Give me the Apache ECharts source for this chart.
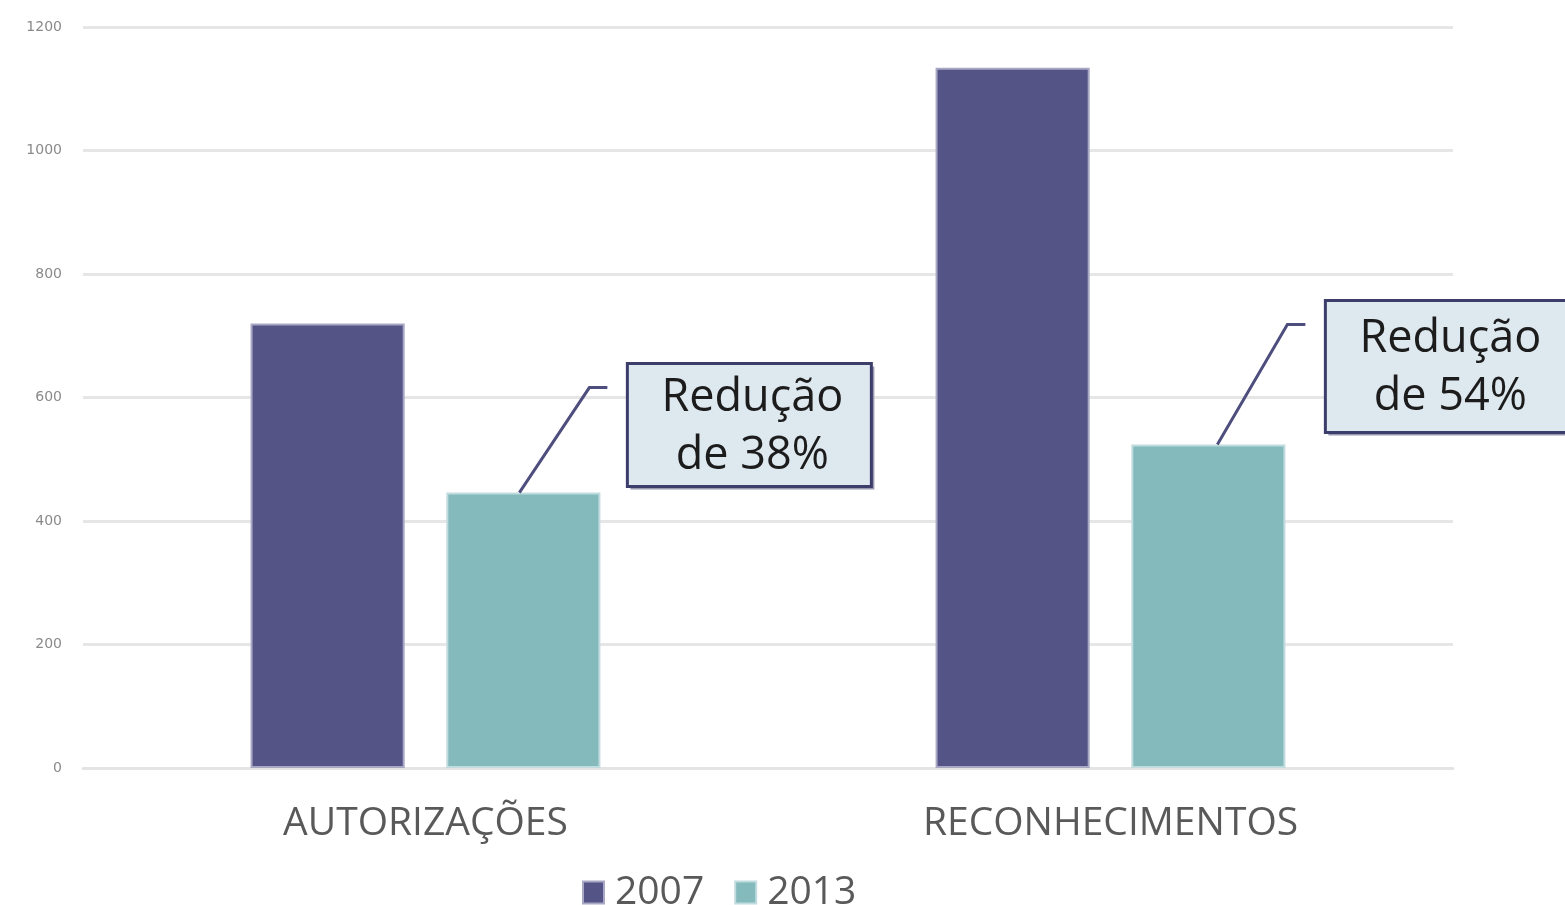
<!DOCTYPE html>
<html lang="pt">
    <head>
        <title>Autorizações e Reconhecimentos</title>
        <meta charset="utf-8">
        <script src='https://cdn.jsdelivr.net/npm/echarts@6/dist/echarts.min.js'></script>
    </head>

    <style>
        html, body, #main {
            width: 100%;
            height: 100%;
            margin: 0;
            background: #fff;
        }
    </style>

    <body>
        <div id='main'></div>

        <script>
            const categories = ['AUTORIZAÇÕES', 'RECONHECIMENTOS'];
            const years = ['2007', '2013'];
            const values2007 = [720, 1134];
            const values2013 = [446, 524];
            const callouts = ['Redução\nde 38%', 'Redução\nde 54%'];
            const yTicks = [0, 200, 400, 600, 800, 1000, 1200];

            const barWidthPct = 0.225;
            const barGapPct = 0.27;
            // callout leader tweaks per box: [x shift, rise, box height] in px
            const calloutLayout = [[-4, 105, 123], [9, 120, 132]];

            const chart = echarts.init(document.getElementById('main'));

            const renderCallout = function (params, api) {
                const i = params.dataIndex;
                const lay = calloutLayout[i];
                const p = api.coord([api.value(0), api.value(1)]);
                const band = api.size([1, 0])[0];
                const x0 = p[0] + band * barWidthPct * (1 + barGapPct) / 2 + lay[0];
                const y0 = p[1];
                const rise = lay[1];
                const bh = lay[2];
                const bx = x0 + 108, by = y0 - rise - 24, bw = 244;
                const dark = '#3d3d6c';
                return {
                    type: 'group',
                    children: [
                        {
                            type: 'polyline',
                            shape: { points: [[x0, y0], [x0 + 70, y0 - rise], [x0 + 88, y0 - rise]] },
                            style: { stroke: '#4e4e7e', lineWidth: 3, fill: null }
                        },
                        {
                            type: 'rect',
                            shape: { x: bx + 3, y: by + 3, width: bw, height: bh },
                            style: { fill: '#9898b0' }
                        },
                        {
                            type: 'rect',
                            shape: { x: bx, y: by, width: bw, height: bh },
                            style: { fill: '#dee8ef', stroke: dark, lineWidth: 3 }
                        },
                        {
                            type: 'text',
                            style: {
                                x: bx + bw / 2 + 3,
                                y: by + bh / 2 + 2,
                                text: callouts[i],
                                align: 'center',
                                verticalAlign: 'middle',
                                fontFamily: 'Open Sans',
                                fontSize: 45,
                                lineHeight: 58,
                                fill: '#1c1c1c'
                            }
                        }
                    ]
                };
            };

            const option = {
                animation: false,
                grid: { left: 83, right: 112, top: 27, bottom: 137 },
                legend: {
                    data: years,
                    bottom: -12,
                    left: 577,
                    itemWidth: 21,
                    itemHeight: 22,
                    itemGap: 30,
                    icon: 'rect',
                    textStyle: { fontFamily: 'Open Sans', fontSize: 39, color: '#595959', padding: [0, 0, 0, 6] }
                },
                xAxis: {
                    type: 'category',
                    data: categories,
                    axisTick: { show: false },
                    axisLine: { lineStyle: { color: '#e4e4e4', width: 3 } },
                    axisLabel: { fontFamily: 'Open Sans', fontSize: 39, color: '#595959', margin: 36 }
                },
                yAxis: {
                    type: 'value',
                    min: yTicks[0],
                    max: yTicks[yTicks.length - 1],
                    interval: 200,
                    axisLine: { show: false },
                    axisTick: { show: false },
                    axisLabel: {
                        fontFamily: 'DejaVu Sans', fontSize: 14, color: '#8a8a8a', margin: 21,
                        formatter: function (v) { return String(v); }
                    },
                    splitLine: { lineStyle: { color: '#e6e6e6', width: 3 } }
                },
                series: [
                    {
                        name: years[0],
                        type: 'bar',
                        data: values2007,
                        barWidth: (barWidthPct * 100) + '%',
                        barGap: (barGapPct * 100) + '%',
                        itemStyle: { color: '#545487', borderColor: '#a8a8c4', borderWidth: 2 }
                    },
                    {
                        name: years[1],
                        type: 'bar',
                        data: values2013,
                        barWidth: (barWidthPct * 100) + '%',
                        itemStyle: { color: '#85babd', borderColor: '#c0dcde', borderWidth: 2 }
                    },
                    {
                        type: 'custom',
                        renderItem: renderCallout,
                        data: values2013.map(function (v, i) { return [i, v]; }),
                        z: 5,
                        silent: true
                    }
                ]
            };

            chart.setOption(option);

            window.onresize = function () {
                chart.resize();
            }
        </script>
    </body>
</html>
